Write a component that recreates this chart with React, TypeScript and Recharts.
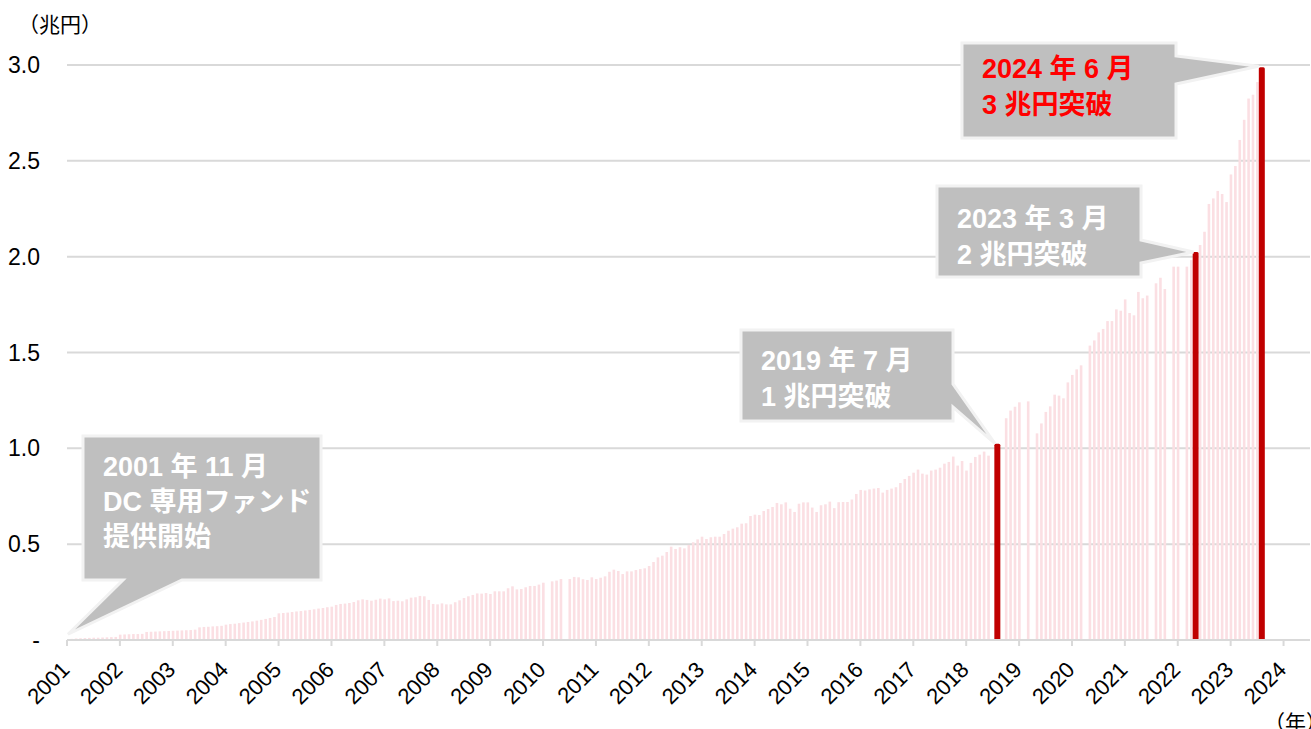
import React from 'react';
import { Bar, BarChart, CartesianGrid, ReferenceDot, XAxis, YAxis } from 'recharts';

// 月末残高（兆円）2001年11月〜2024年6月。null は棒の無い月
const monthlyBalance: (number | null)[] = [
  0.004, 0.006, 0.008, 0.009, 0.010, 0.011, 0.012, 0.012, 0.013, 0.014, 0.015, 0.016,
  0.028, 0.029, 0.030, 0.031, 0.031, 0.032, 0.042, 0.043, 0.044, 0.045, 0.046, 0.047,
  0.048, 0.049, 0.050, 0.051, 0.052, 0.054, 0.066, 0.068, 0.069, 0.071, 0.072, 0.074,
  0.080, 0.083, 0.085, 0.088, 0.091, 0.094, 0.097, 0.101, 0.105, 0.110, 0.115, 0.120,
  0.139, 0.141, 0.143, 0.146, 0.149, 0.151, 0.154, 0.157, 0.160, 0.164, 0.167, 0.171,
  0.174, 0.183, 0.188, 0.190, 0.193, 0.198, 0.207, 0.212, 0.209, 0.205, 0.210, 0.216,
  0.212, 0.217, 0.203, 0.205, 0.202, 0.212, 0.221, 0.223, 0.230, 0.228, 0.209, 0.188,
  0.186, 0.191, 0.186, 0.186, 0.197, 0.207, 0.219, 0.228, 0.235, 0.243, 0.242, 0.245,
  0.240, 0.254, 0.254, 0.254, 0.270, 0.280, 0.264, 0.266, 0.275, 0.282, 0.282, 0.289,
  0.299, null, 0.306, 0.310, 0.318, null, 0.318, 0.329, 0.327, 0.317, 0.313, 0.327,
  0.318, 0.325, 0.332, 0.356, 0.367, 0.360, 0.344, 0.358, 0.358, 0.365, 0.370, 0.374,
  0.386, 0.407, 0.431, 0.440, 0.459, 0.487, 0.475, 0.484, 0.478, 0.496, 0.510, 0.525,
  0.539, 0.527, 0.536, 0.539, 0.539, 0.553, 0.570, 0.581, 0.588, 0.607, 0.609, 0.647,
  0.654, 0.652, 0.673, 0.683, 0.694, 0.715, 0.708, 0.718, 0.685, 0.668, 0.711, 0.718,
  0.718, 0.691, 0.668, 0.703, 0.708, 0.722, 0.688, 0.719, 0.720, 0.720, 0.733, 0.762,
  0.783, 0.780, 0.786, 0.790, 0.793, 0.769, 0.783, 0.790, 0.797, 0.819, 0.840, 0.856,
  0.873, 0.889, 0.868, 0.863, 0.884, 0.889, 0.899, 0.920, 0.929, 0.957, 0.910, 0.934,
  0.884, 0.924, 0.955, 0.967, 0.983, 0.962, null, 1.024, null, 1.157, 1.197, 1.217,
  1.240, null, 1.245, null, 1.078, 1.130, 1.190, 1.219, 1.280, 1.275, 1.261, 1.344,
  1.383, 1.412, 1.433, null, 1.536, 1.563, 1.605, 1.623, 1.664, 1.664, 1.725, 1.718,
  1.777, 1.706, 1.694, 1.816, 1.783, 1.797, null, 1.861, 1.890, 1.831, null, 1.948,
  1.948, null, 1.948, 1.982, 2.024, 2.061, 2.130, 2.275, 2.304, 2.343, 2.327, 2.285,
  2.429, 2.473, 2.609, 2.714, 2.825, 2.845, 2.911, 2.988,
];

// 強調する月（インデックス）
const highlightIdx = [211, 256, 271];

const yearLabels = [
  '2001', '2002', '2003', '2004', '2005', '2006', '2007', '2008', '2009', '2010', '2011', '2012',
  '2013', '2014', '2015', '2016', '2017', '2018', '2019', '2020', '2021', '2022', '2023', '2024',
];
const yearTicks = yearLabels.map((_, k) => k * 12);

const yTicks = [0, 0.5, 1.0, 1.5, 2.0, 2.5, 3.0];

const notes = [
  { idx: 0, lines: ['2001 年 11 月', 'DC 専用ファンド', '提供開始'], red: false },
  { idx: 211, lines: ['2019 年 7 月', '1 兆円突破'], red: false },
  { idx: 256, lines: ['2023 年 3 月', '2 兆円突破'], red: false },
  { idx: 271, lines: ['2024 年 6 月', '3 兆円突破'], red: true },
];

// 吹き出しの配置（ピクセル）
const noteLayout = [
  { l: 83, t: 436, r: 321, b: 580, side: 'bottom', p1: 123, p2: 182, tx: 103, ty: 476, gap: 35, dx: 1, dy: -5 },
  { l: 741, t: 330, r: 953, b: 421, side: 'right', p1: 384, p2: 407, tx: 761, ty: 370, gap: 36, dx: -2, dy: 0 },
  { l: 937, t: 186, r: 1141, b: 277, side: 'right', p1: 240, p2: 263, tx: 957, ty: 228, gap: 36, dx: -2, dy: 0 },
  { l: 962, t: 43, r: 1176, b: 138, side: 'right', p1: 56, p2: 84, tx: 982, ty: 78, gap: 36, dx: -3, dy: -1 },
];

const rows = monthlyBalance.map((v, i) => ({ i, v, hi: highlightIdx.includes(i) }));

const LATIN = "'Liberation Sans', Arial, 'Noto Sans CJK JP', sans-serif";
const CJK = "'Liberation Sans', 'Noto Sans CJK JP', sans-serif";
const CJK_ONLY = "'Noto Sans CJK JP', sans-serif";
const PINK = '#fbdfe3';
const RED = '#c00000';
const GRID = '#d9d9d9';

const MonthBar = (props: any) => {
  const { x, y, width, height, payload } = props;
  if (payload == null || payload.v == null || !height) return <g />;
  const w = payload.hi ? 6 : 2.6;
  const cx = x + width / 2;
  return (
    <rect
      x={cx - w / 2}
      y={y}
      width={w}
      height={height}
      rx={payload.hi ? 1.5 : 0}
      fill={payload.hi ? RED : PINK}
    />
  );
};

const YearTick = (props: any) => {
  const { x, y, payload } = props;
  const ax = x + 4;
  const ay = y + 23;
  return (
    <text
      x={ax}
      y={ay}
      transform={`rotate(-45, ${ax}, ${ay})`}
      textAnchor="end"
      fontSize={22}
      fontFamily={LATIN}
      fill="#000"
    >
      {yearLabels[Math.round(payload.value / 12)]}
    </text>
  );
};

const Callout = (props: any) => {
  const { cx, cy, lay, note } = props;
  if (cx == null || cy == null) return <g />;
  const tipX = cx + lay.dx;
  const tipY = cy + lay.dy;
  const { l, t, r, b } = lay;
  const pts =
    lay.side === 'right'
      ? [[l, t], [r, t], [r, lay.p1], [tipX, tipY], [r, lay.p2], [r, b], [l, b]]
      : [[l, t], [r, t], [r, b], [lay.p2, b], [tipX, tipY], [lay.p1, b], [l, b]];
  return (
    <g>
      <polygon
        points={pts.map((p) => p.join(',')).join(' ')}
        fill="#bfbfbf"
        stroke="#f2f2f2"
        strokeWidth={3}
      />
      <text
        x={lay.tx}
        y={lay.ty}
        fill={note.red ? '#ff0000' : '#ffffff'}
        fontSize={27}
        fontWeight="bold"
        fontFamily={CJK}
      >
        {note.lines.map((s: string, k: number) => (
          <tspan key={k} x={lay.tx} dy={k === 0 ? 0 : lay.gap}>
            {s}
          </tspan>
        ))}
      </text>
    </g>
  );
};

const App = () => (
  <div
    style={{
      position: 'absolute',
      left: 0,
      top: 0,
      width: 1311,
      height: 729,
      overflow: 'hidden',
      background: '#fff',
    }}
  >
    <BarChart
      width={1311}
      height={729}
      data={rows}
      margin={{ top: 65, right: 1, left: 7, bottom: 29 }}
    >
      <CartesianGrid vertical={false} stroke={GRID} strokeWidth={2} />
      <XAxis
        type="number"
        dataKey="i"
        domain={[0, 282]}
        ticks={yearTicks}
        interval={0}
        allowDataOverflow
        height={60}
        tickSize={6}
        tickMargin={2}
        tickLine={{ stroke: GRID, strokeWidth: 2 }}
        axisLine={{ stroke: GRID, strokeWidth: 2 }}
        tick={YearTick}
      />
      <YAxis
        type="number"
        domain={[0, 3]}
        ticks={yTicks}
        interval={0}
        width={60}
        axisLine={false}
        tickLine={false}
        tickSize={0}
        tickMargin={27}
        tickFormatter={(v: number) => (v === 0 ? '-' : v.toFixed(1))}
        tick={{ fontSize: 23, fill: '#000', fontFamily: LATIN }}
      />
      <Bar dataKey="v" barSize={3} shape={MonthBar} isAnimationActive={false} />
      {notes.map((n, k) => (
        <ReferenceDot
          key={k}
          x={n.idx}
          y={monthlyBalance[n.idx] as number}
          r={0}
          ifOverflow="visible"
          shape={(p: any) => <Callout {...p} lay={noteLayout[k]} note={n} />}
        />
      ))}
    </BarChart>
    <div
      style={{
        position: 'absolute',
        left: 18,
        top: 12,
        fontSize: 21,
        lineHeight: '22px',
        fontFamily: CJK_ONLY,
        color: '#000',
      }}
    >
      （兆円）
    </div>
    <div
      style={{
        position: 'absolute',
        left: 1264,
        top: 710,
        fontSize: 21,
        lineHeight: '22px',
        fontFamily: CJK_ONLY,
        color: '#000',
        whiteSpace: 'nowrap',
      }}
    >
      （年）
    </div>
  </div>
);

export default App;
